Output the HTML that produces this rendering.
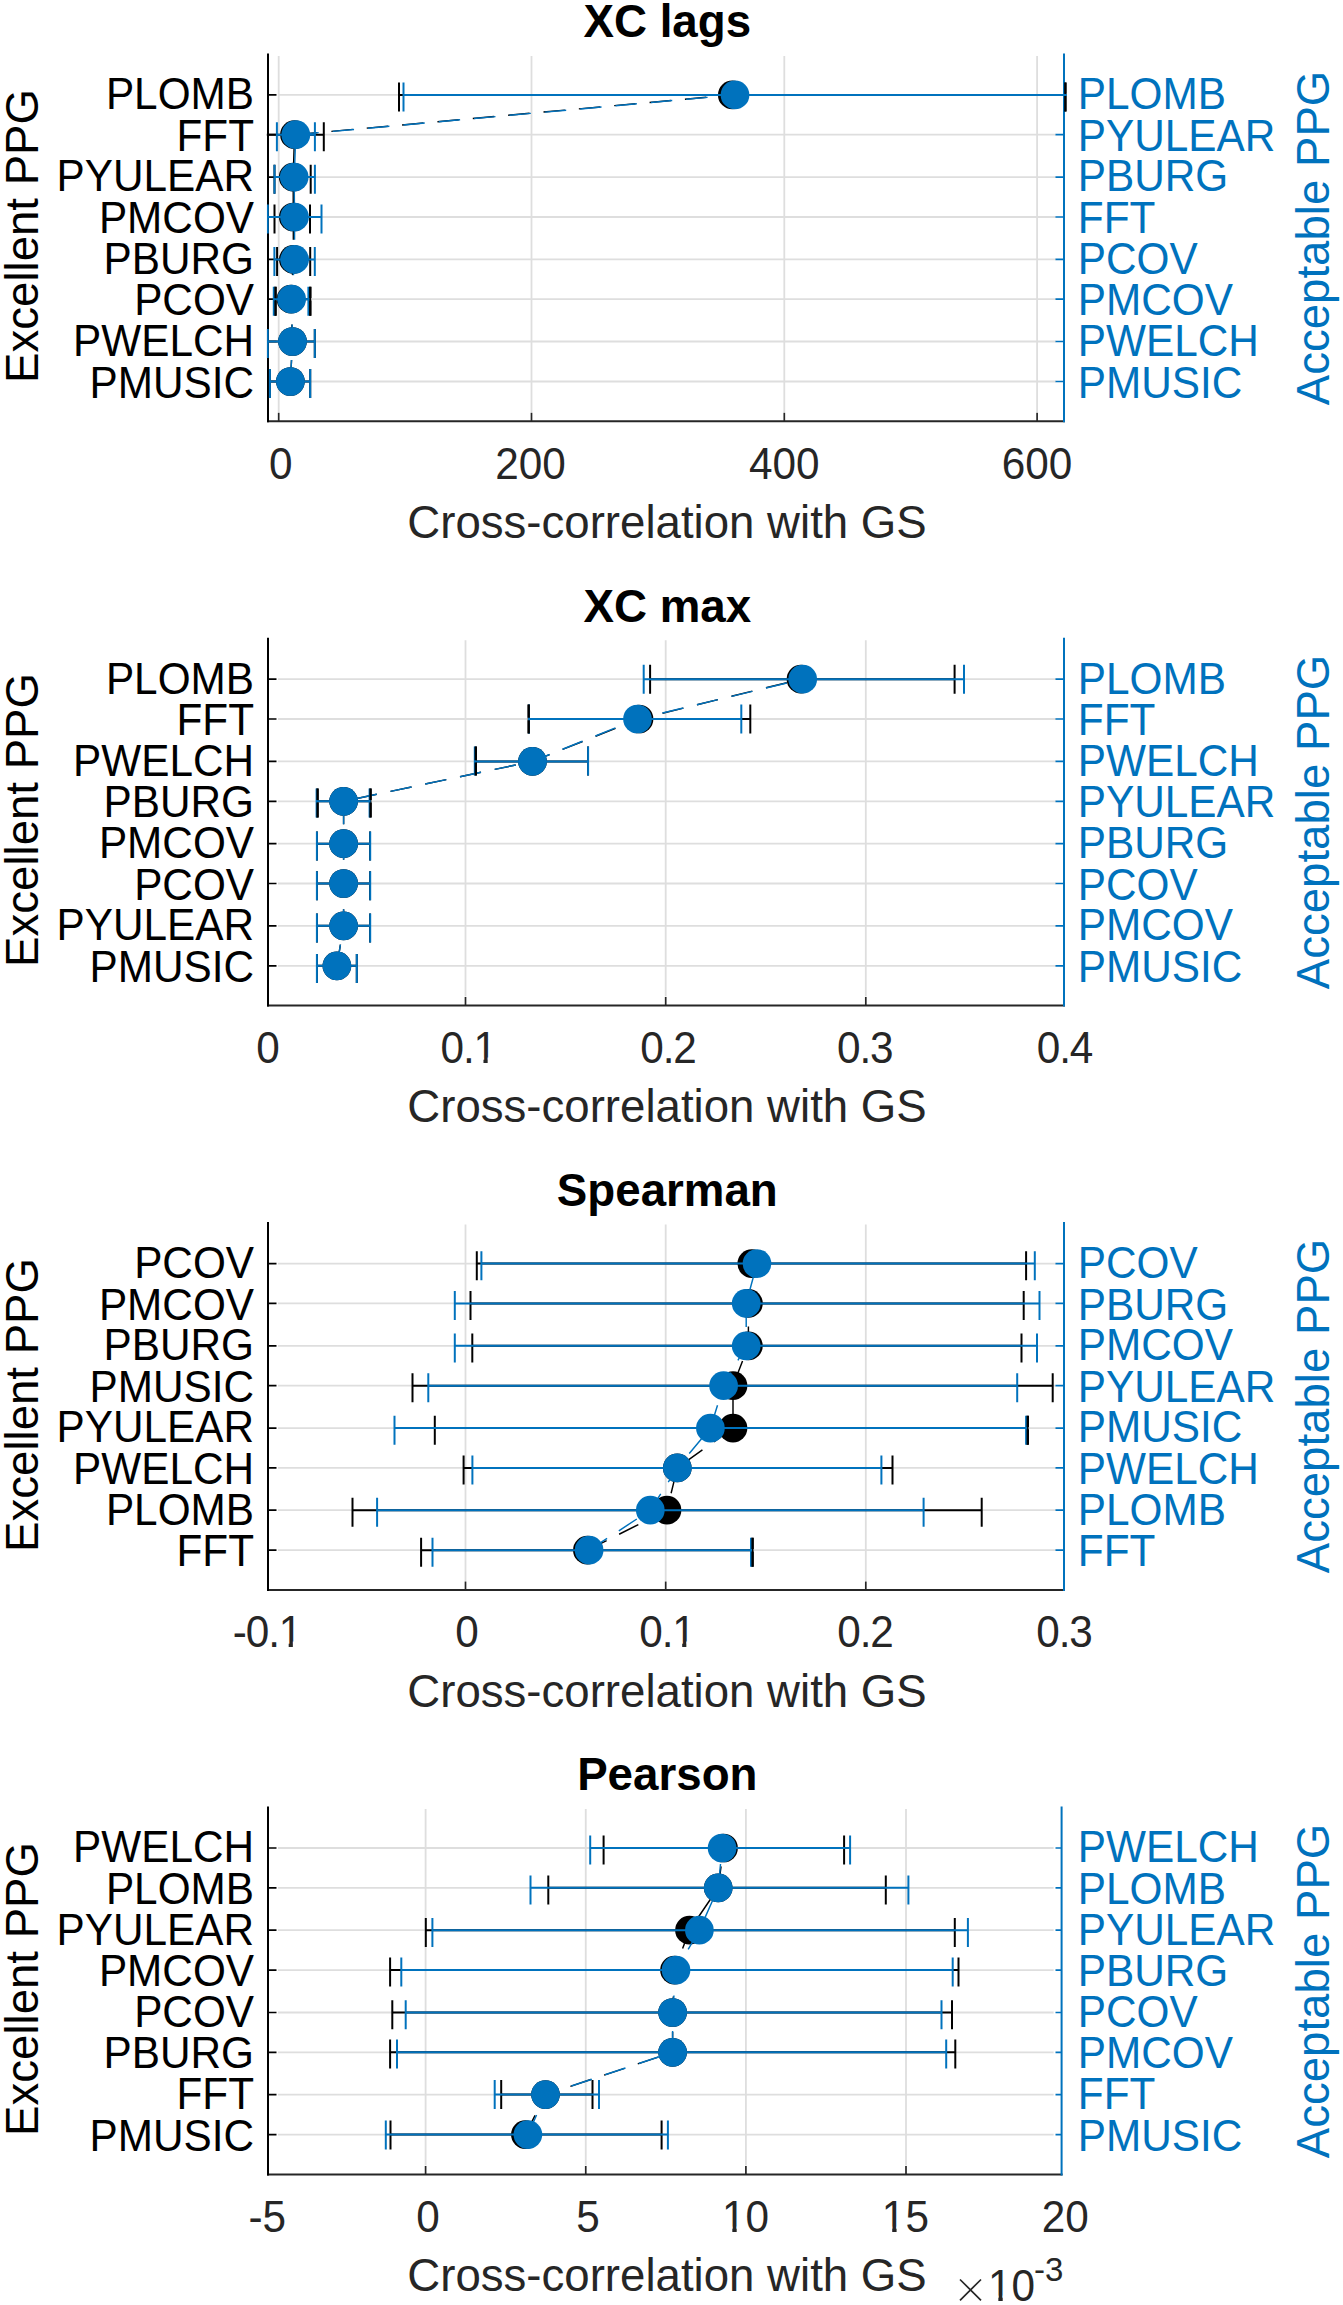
<!DOCTYPE html>
<html><head><meta charset="utf-8"><title>chart</title>
<style>
html,body{margin:0;padding:0;background:#fff}
body{width:1343px;height:2305px;position:relative;overflow:hidden;font-family:"Liberation Sans",sans-serif}
.o{display:inline-block;clip-path:polygon(0 0,100% 0,100% 70%,62.5% 70%,62.5% 100%,44% 100%,44% 70%,0 70%)}
</style></head><body>
<svg width="1343" height="2305" viewBox="0 0 1343 2305" style="position:absolute;left:0;top:0">
<rect width="1343" height="2305" fill="#fff"/>
<path d="M278.7 55.9V412.3M531.5 55.9V412.3M784.3 55.9V412.3M1037.1 55.9V412.3M278 94.9H1056M278 134.7H1056M278 177.1H1056M278 217.0H1056M278 259.4H1056M278 299.2H1056M278 341.5H1056M278 381.5H1056" stroke="#dedede" stroke-width="1.8" fill="none"/>
<clipPath id="c0"><rect x="266.8" y="53.9" width="800" height="367.4"/></clipPath>
<path d="M267 421.3H1065" stroke="#262626" stroke-width="2" fill="none"/>
<path d="M278.7 421.3v-8.5M531.5 421.3v-8.5M784.3 421.3v-8.5M1037.1 421.3v-8.5" stroke="#262626" stroke-width="1.7" fill="none"/>
<path d="M268 53.4V422.3" stroke="#000" stroke-width="2" fill="none"/>
<path d="M268 94.9h8.5M268 134.7h8.5M268 177.1h8.5M268 217.0h8.5M268 259.4h8.5M268 299.2h8.5M268 341.5h8.5M268 381.5h8.5" stroke="#000" stroke-width="1.7" fill="none"/>
<path d="M1064 53.4V422.3" stroke="#0072BD" stroke-width="2" fill="none"/>
<path d="M1064 94.9H1055.5M1064 134.7H1055.5M1064 177.1H1055.5M1064 217.0H1055.5M1064 259.4H1055.5M1064 299.2H1055.5M1064 341.5H1055.5M1064 381.5H1055.5" stroke="#0072BD" stroke-width="1.7" fill="none"/>
<g clip-path="url(#c0)">
<path d="M399.0 94.9H1065.5M399.0 82.5V111.5M1065.5 82.5V111.5M262 134.7H323.8M262 122.3V151.3M323.8 122.3V151.3M274.5 177.1H310.7M274.5 164.7V193.7M310.7 164.7V193.7M274.5 217.0H310M274.5 204.6V233.6M310 204.6V233.6M277.1 259.4H310.2M277.1 247.0V276.0M310.2 247.0V276.0M275.3 299.2H310.2M275.3 286.8V315.8M310.2 286.8V315.8M267.8 341.5H314.8M267.8 329.1V358.1M314.8 329.1V358.1M269.9 381.5H310.2M269.9 369.1V398.1M310.2 369.1V398.1" stroke="#000" stroke-width="2" fill="none"/>
<polyline points="290.4,381.5 292.5,341.5 291,299.2 293.4,259.4 293.3,217.0 293.2,177.1 294.5,134.7 732.3,94.9" stroke="#000" stroke-width="1.45" fill="none" stroke-dasharray="21.5 14" stroke-dashoffset="0"/>
<circle cx="732.3" cy="94.9" r="14.35" fill="#000"/>
<circle cx="294.5" cy="134.7" r="14.35" fill="#000"/>
<circle cx="293.2" cy="177.1" r="14.35" fill="#000"/>
<circle cx="293.3" cy="217.0" r="14.35" fill="#000"/>
<circle cx="293.4" cy="259.4" r="14.35" fill="#000"/>
<circle cx="291" cy="299.2" r="14.35" fill="#000"/>
<circle cx="292.5" cy="341.5" r="14.35" fill="#000"/>
<circle cx="290.4" cy="381.5" r="14.35" fill="#000"/>
<path d="M403.5 94.9H1100M403.5 82.5V111.5M1100 82.5V111.5M276.9 134.7H314.9M276.9 122.3V151.3M314.9 122.3V151.3M274.5 177.1H314.9M274.5 164.7V193.7M314.9 164.7V193.7M267.8 217.0H321.5M267.8 204.6V233.6M321.5 204.6V233.6M274.4 259.4H314.8M274.4 247.0V276.0M314.8 247.0V276.0M273.8 299.2H308.4M273.8 286.8V315.8M308.4 286.8V315.8M267.8 341.5H314.8M267.8 329.1V358.1M314.8 329.1V358.1M269.9 381.5H310.2M269.9 369.1V398.1M310.2 369.1V398.1" stroke="#0072BD" stroke-width="2" fill="none"/>
<polyline points="290.4,381.5 292.5,341.5 291.6,299.2 294.6,259.4 294.5,217.0 294.2,177.1 295.8,134.7 735,94.9" stroke="#0072BD" stroke-width="1.45" fill="none" stroke-dasharray="21.5 14" stroke-dashoffset="0"/>
<circle cx="735" cy="94.9" r="14.35" fill="#0072BD"/>
<circle cx="295.8" cy="134.7" r="14.35" fill="#0072BD"/>
<circle cx="294.2" cy="177.1" r="14.35" fill="#0072BD"/>
<circle cx="294.5" cy="217.0" r="14.35" fill="#0072BD"/>
<circle cx="294.6" cy="259.4" r="14.35" fill="#0072BD"/>
<circle cx="291.6" cy="299.2" r="14.35" fill="#0072BD"/>
<circle cx="292.5" cy="341.5" r="14.35" fill="#0072BD"/>
<circle cx="290.4" cy="381.5" r="14.35" fill="#0072BD"/>
<path d="M1065.5 82.5V93.7M1065.5 96.1V111.5M275.6 286.8V298.0M275.6 300.4V315.8M310.3 286.8V298.0M310.3 300.4V315.8" stroke="#000" stroke-width="2.4" fill="none"/>
</g>
<path d="M465.5 640.2V996.6M665.7 640.2V996.6M865.8 640.2V996.6M278 679.2H1056M278 719.0H1056M278 761.4H1056M278 801.3H1056M278 843.7H1056M278 883.5H1056M278 925.8H1056M278 965.8H1056" stroke="#dedede" stroke-width="1.8" fill="none"/>
<clipPath id="c1"><rect x="266.8" y="638.2" width="800" height="367.4"/></clipPath>
<path d="M267 1005.6H1065" stroke="#262626" stroke-width="2" fill="none"/>
<path d="M465.5 1005.6v-8.5M665.7 1005.6v-8.5M865.8 1005.6v-8.5" stroke="#262626" stroke-width="1.7" fill="none"/>
<path d="M268 637.7V1006.6" stroke="#000" stroke-width="2" fill="none"/>
<path d="M268 679.2h8.5M268 719.0h8.5M268 761.4h8.5M268 801.3h8.5M268 843.7h8.5M268 883.5h8.5M268 925.8h8.5M268 965.8h8.5" stroke="#000" stroke-width="1.7" fill="none"/>
<path d="M1064 637.7V1006.6" stroke="#0072BD" stroke-width="2" fill="none"/>
<path d="M1064 679.2H1055.5M1064 719.0H1055.5M1064 761.4H1055.5M1064 801.3H1055.5M1064 843.7H1055.5M1064 883.5H1055.5M1064 925.8H1055.5M1064 965.8H1055.5" stroke="#0072BD" stroke-width="1.7" fill="none"/>
<g clip-path="url(#c1)">
<path d="M650.1 679.2H954.6M650.1 664.7V693.7M954.6 664.7V693.7M528.7 719.0H750.3M528.7 704.5V733.5M750.3 704.5V733.5M475.8 761.4H588M475.8 746.6V775.6M588 746.6V775.6M317.4 801.3H370.4M317.4 788.4V817.4M370.4 788.4V817.4M317 843.7H370M317 831.4V860.4M370 831.4V860.4M317 883.5H370M317 871.2V900.2M370 871.2V900.2M317 925.8H370M317 913.5V942.5M370 913.5V942.5M317 965.8H356.8M317 953.9V982.9M356.8 953.9V982.9" stroke="#000" stroke-width="2" fill="none"/>
<polyline points="336.9,965.8 343.6,925.8 343.6,883.5 343.6,843.7 343.6,801.3 532.5,761.4 639,719.0 801,679.2" stroke="#000" stroke-width="1.45" fill="none" stroke-dasharray="21.5 14" stroke-dashoffset="0"/>
<circle cx="801" cy="679.2" r="14.35" fill="#000"/>
<circle cx="639" cy="719.0" r="14.35" fill="#000"/>
<circle cx="532.5" cy="761.4" r="14.35" fill="#000"/>
<circle cx="343.6" cy="801.3" r="14.35" fill="#000"/>
<circle cx="343.6" cy="843.7" r="14.35" fill="#000"/>
<circle cx="343.6" cy="883.5" r="14.35" fill="#000"/>
<circle cx="343.6" cy="925.8" r="14.35" fill="#000"/>
<circle cx="336.9" cy="965.8" r="14.35" fill="#000"/>
<path d="M643.7 679.2H964.0M643.7 664.7V693.7M964.0 664.7V693.7M529 719.0H741.3M529 704.5V733.5M741.3 704.5V733.5M474.8 761.4H588.1M474.8 746.6V775.6M588.1 746.6V775.6M316.6 801.3H369.6M316.6 788.4V817.4M369.6 788.4V817.4M316.9 843.7H370.2M316.9 831.4V860.4M370.2 831.4V860.4M316.9 883.5H370.2M316.9 871.2V900.2M370.2 871.2V900.2M316.9 925.8H370.2M316.9 913.5V942.5M370.2 913.5V942.5M316.9 965.8H356.8M316.9 953.9V982.9M356.8 953.9V982.9" stroke="#0072BD" stroke-width="2" fill="none"/>
<polyline points="336.9,965.8 343.6,925.8 343.6,883.5 343.6,843.7 343.6,801.3 532.5,761.4 637.5,719.0 802.7,679.2" stroke="#0072BD" stroke-width="1.45" fill="none" stroke-dasharray="21.5 14" stroke-dashoffset="0"/>
<circle cx="802.7" cy="679.2" r="14.35" fill="#0072BD"/>
<circle cx="637.5" cy="719.0" r="14.35" fill="#0072BD"/>
<circle cx="532.5" cy="761.4" r="14.35" fill="#0072BD"/>
<circle cx="343.6" cy="801.3" r="14.35" fill="#0072BD"/>
<circle cx="343.6" cy="843.7" r="14.35" fill="#0072BD"/>
<circle cx="343.6" cy="883.5" r="14.35" fill="#0072BD"/>
<circle cx="343.6" cy="925.8" r="14.35" fill="#0072BD"/>
<circle cx="336.9" cy="965.8" r="14.35" fill="#0072BD"/>
<path d="M528.7 704.5V717.8M528.7 720.2V733.5M475.8 746.6V760.2M475.8 762.6V775.6M317.6 788.4V800.1M317.6 802.5V817.4M370.6 788.4V800.1M370.6 802.5V817.4" stroke="#000" stroke-width="2.4" fill="none"/>
</g>
<path d="M465.5 1224.6V1581.0M665.7 1224.6V1581.0M865.8 1224.6V1581.0M278 1263.6H1056M278 1303.4H1056M278 1345.8H1056M278 1385.7H1056M278 1428.1H1056M278 1467.9H1056M278 1510.2H1056M278 1550.2H1056" stroke="#dedede" stroke-width="1.8" fill="none"/>
<clipPath id="c2"><rect x="266.8" y="1222.6" width="800" height="367.4"/></clipPath>
<path d="M267 1590.0H1065" stroke="#262626" stroke-width="2" fill="none"/>
<path d="M465.5 1590.0v-8.5M665.7 1590.0v-8.5M865.8 1590.0v-8.5" stroke="#262626" stroke-width="1.7" fill="none"/>
<path d="M268 1222.1V1591.0" stroke="#000" stroke-width="2" fill="none"/>
<path d="M268 1263.6h8.5M268 1303.4h8.5M268 1345.8h8.5M268 1385.7h8.5M268 1428.1h8.5M268 1467.9h8.5M268 1510.2h8.5M268 1550.2h8.5" stroke="#000" stroke-width="1.7" fill="none"/>
<path d="M1064 1222.1V1591.0" stroke="#0072BD" stroke-width="2" fill="none"/>
<path d="M1064 1263.6H1055.5M1064 1303.4H1055.5M1064 1345.8H1055.5M1064 1385.7H1055.5M1064 1428.1H1055.5M1064 1467.9H1055.5M1064 1510.2H1055.5M1064 1550.2H1055.5" stroke="#0072BD" stroke-width="1.7" fill="none"/>
<g clip-path="url(#c2)">
<path d="M476.8 1263.6H1026.1M476.8 1251.2V1280.2M1026.1 1251.2V1280.2M470.5 1303.4H1023.7M470.5 1291.0V1320.0M1023.7 1291.0V1320.0M472.3 1345.8H1021.5M472.3 1333.4V1362.4M1021.5 1333.4V1362.4M412.5 1385.7H1052.7M412.5 1373.3V1402.3M1052.7 1373.3V1402.3M434.8 1428.1H1027.6M434.8 1415.7V1444.7M1027.6 1415.7V1444.7M463.6 1467.9H892.5M463.6 1455.5V1484.5M892.5 1455.5V1484.5M352.5 1510.2H981.7M352.5 1497.8V1526.8M981.7 1497.8V1526.8M421.1 1550.2H752.5M421.1 1537.8V1566.8M752.5 1537.8V1566.8" stroke="#000" stroke-width="2" fill="none"/>
<polyline points="587.4,1550.2 667,1510.2 677.3,1467.9 733,1428.1 733,1385.7 748.4,1345.8 748.4,1303.4 751.8,1263.6" stroke="#000" stroke-width="1.45" fill="none" stroke-dasharray="21.5 14" stroke-dashoffset="0"/>
<circle cx="751.8" cy="1263.6" r="14.35" fill="#000"/>
<circle cx="748.4" cy="1303.4" r="14.35" fill="#000"/>
<circle cx="748.4" cy="1345.8" r="14.35" fill="#000"/>
<circle cx="733" cy="1385.7" r="14.35" fill="#000"/>
<circle cx="733" cy="1428.1" r="14.35" fill="#000"/>
<circle cx="677.3" cy="1467.9" r="14.35" fill="#000"/>
<circle cx="667" cy="1510.2" r="14.35" fill="#000"/>
<circle cx="587.4" cy="1550.2" r="14.35" fill="#000"/>
<path d="M481.4 1263.6H1034.8M481.4 1251.2V1280.2M1034.8 1251.2V1280.2M454.8 1303.4H1039.5M454.8 1291.0V1320.0M1039.5 1291.0V1320.0M454.8 1345.8H1037M454.8 1333.4V1362.4M1037 1333.4V1362.4M428.3 1385.7H1017.2M428.3 1373.3V1402.3M1017.2 1373.3V1402.3M394.5 1428.1H1026.1M394.5 1415.7V1444.7M1026.1 1415.7V1444.7M472.4 1467.9H881.4M472.4 1455.5V1484.5M881.4 1455.5V1484.5M377.1 1510.2H923.6M377.1 1497.8V1526.8M923.6 1497.8V1526.8M432.5 1550.2H751M432.5 1537.8V1566.8M751 1537.8V1566.8" stroke="#0072BD" stroke-width="2" fill="none"/>
<polyline points="589.1,1550.2 650.3,1510.2 677.3,1467.9 710.4,1428.1 723.6,1385.7 746.2,1345.8 746.2,1303.4 757,1263.6" stroke="#0072BD" stroke-width="1.45" fill="none" stroke-dasharray="21.5 14" stroke-dashoffset="0"/>
<circle cx="757" cy="1263.6" r="14.35" fill="#0072BD"/>
<circle cx="746.2" cy="1303.4" r="14.35" fill="#0072BD"/>
<circle cx="746.2" cy="1345.8" r="14.35" fill="#0072BD"/>
<circle cx="723.6" cy="1385.7" r="14.35" fill="#0072BD"/>
<circle cx="710.4" cy="1428.1" r="14.35" fill="#0072BD"/>
<circle cx="677.3" cy="1467.9" r="14.35" fill="#0072BD"/>
<circle cx="650.3" cy="1510.2" r="14.35" fill="#0072BD"/>
<circle cx="589.1" cy="1550.2" r="14.35" fill="#0072BD"/>
<path d="M1027.8 1415.7V1426.9M1027.8 1429.3V1444.7M752.6 1537.8V1549.0M752.6 1551.4V1566.8" stroke="#000" stroke-width="2.4" fill="none"/>
</g>
<path d="M425.6 1809.0V2165.4M585.75 1809.0V2165.4M745.9 1809.0V2165.4M906.0 1809.0V2165.4M278 1848.0H1053.6M278 1887.8H1053.6M278 1930.2H1053.6M278 1970.1H1053.6M278 2012.5H1053.6M278 2052.3H1053.6M278 2094.6H1053.6M278 2134.6H1053.6" stroke="#dedede" stroke-width="1.8" fill="none"/>
<clipPath id="c3"><rect x="266.8" y="1807.0" width="797.5999999999999" height="367.4"/></clipPath>
<path d="M267 2174.4H1062.6" stroke="#262626" stroke-width="2" fill="none"/>
<path d="M425.6 2174.4v-8.5M585.75 2174.4v-8.5M745.9 2174.4v-8.5M906.0 2174.4v-8.5" stroke="#262626" stroke-width="1.7" fill="none"/>
<path d="M268 1806.5V2175.4" stroke="#000" stroke-width="2" fill="none"/>
<path d="M268 1848.0h8.5M268 1887.8h8.5M268 1930.2h8.5M268 1970.1h8.5M268 2012.5h8.5M268 2052.3h8.5M268 2094.6h8.5M268 2134.6h8.5" stroke="#000" stroke-width="1.7" fill="none"/>
<path d="M1061.6 1806.5V2175.4" stroke="#0072BD" stroke-width="2" fill="none"/>
<path d="M1061.6 1848.0H1055.5M1061.6 1887.8H1055.5M1061.6 1930.2H1055.5M1061.6 1970.1H1055.5M1061.6 2012.5H1055.5M1061.6 2052.3H1055.5M1061.6 2094.6H1055.5M1061.6 2134.6H1055.5" stroke="#0072BD" stroke-width="1.7" fill="none"/>
<g clip-path="url(#c3)">
<path d="M603.6 1848.0H844.1M603.6 1835.5V1864.5M844.1 1835.5V1864.5M548.3 1887.8H885.8M548.3 1875.5V1904.5M885.8 1875.5V1904.5M425.8 1930.2H954.8M425.8 1917.9V1946.9M954.8 1917.9V1946.9M390.1 1970.1H958.5M390.1 1957.6V1986.6M958.5 1957.6V1986.6M392.3 2012.5H952M392.3 2000.2V2029.2M952 2000.2V2029.2M390.1 2052.3H955.3M390.1 2039.4V2068.4M955.3 2039.4V2068.4M501.2 2094.6H592.5M501.2 2080.1V2109.1M592.5 2080.1V2109.1M390.5 2134.6H661.6M390.5 2120.4V2149.4M661.6 2120.4V2149.4" stroke="#000" stroke-width="2" fill="none"/>
<polyline points="525.4,2134.6 545.5,2094.6 672.6,2052.3 672.6,2012.5 674.5,1970.1 689.5,1930.2 718.2,1887.8 723.5,1848.0" stroke="#000" stroke-width="1.45" fill="none" stroke-dasharray="21.5 14" stroke-dashoffset="0"/>
<circle cx="723.5" cy="1848.0" r="14.35" fill="#000"/>
<circle cx="718.2" cy="1887.8" r="14.35" fill="#000"/>
<circle cx="689.5" cy="1930.2" r="14.35" fill="#000"/>
<circle cx="674.5" cy="1970.1" r="14.35" fill="#000"/>
<circle cx="672.6" cy="2012.5" r="14.35" fill="#000"/>
<circle cx="672.6" cy="2052.3" r="14.35" fill="#000"/>
<circle cx="545.5" cy="2094.6" r="14.35" fill="#000"/>
<circle cx="525.4" cy="2134.6" r="14.35" fill="#000"/>
<path d="M590.2 1848.0H850.1M590.2 1835.5V1864.5M850.1 1835.5V1864.5M530.5 1887.8H908.4M530.5 1875.5V1904.5M908.4 1875.5V1904.5M432.4 1930.2H967.9M432.4 1917.9V1946.9M967.9 1917.9V1946.9M401.3 1970.1H952.7M401.3 1957.6V1986.6M952.7 1957.6V1986.6M405.7 2012.5H941.5M405.7 2000.2V2029.2M941.5 2000.2V2029.2M397 2052.3H946.2M397 2039.4V2068.4M946.2 2039.4V2068.4M494.7 2094.6H599M494.7 2080.1V2109.1M599 2080.1V2109.1M385.8 2134.6H667.9M385.8 2120.4V2149.4M667.9 2120.4V2149.4" stroke="#0072BD" stroke-width="2" fill="none"/>
<polyline points="527.9,2134.6 545.5,2094.6 672.6,2052.3 672.6,2012.5 676,1970.1 699.4,1930.2 718.2,1887.8 722.1,1848.0" stroke="#0072BD" stroke-width="1.45" fill="none" stroke-dasharray="21.5 14" stroke-dashoffset="0"/>
<circle cx="722.1" cy="1848.0" r="14.35" fill="#0072BD"/>
<circle cx="718.2" cy="1887.8" r="14.35" fill="#0072BD"/>
<circle cx="699.4" cy="1930.2" r="14.35" fill="#0072BD"/>
<circle cx="676" cy="1970.1" r="14.35" fill="#0072BD"/>
<circle cx="672.6" cy="2012.5" r="14.35" fill="#0072BD"/>
<circle cx="672.6" cy="2052.3" r="14.35" fill="#0072BD"/>
<circle cx="545.5" cy="2094.6" r="14.35" fill="#0072BD"/>
<circle cx="527.9" cy="2134.6" r="14.35" fill="#0072BD"/>
</g>
<path d="M960 2279.5L981 2300.3M981 2279.5L960 2300.3" stroke="#262626" stroke-width="1.7" fill="none"/>
</svg>
<div style="position:absolute;white-space:nowrap;font-size:45.7px;line-height:45.7px;color:#000;font-weight:bold;left:667.3px;top:-0.69px;transform-origin:0 84.3%;transform:translateX(-50%) scaleY(1.03);">XC lags</div>
<div style="position:absolute;white-space:nowrap;font-size:42.3px;line-height:42.3px;color:#000;font-weight:normal;right:1089px;top:74.29px;transform-origin:0 84.3%;transform:scaleY(1.03);">PLOMB</div>
<div style="position:absolute;white-space:nowrap;font-size:42.3px;line-height:42.3px;color:#000;font-weight:normal;right:1089px;top:115.89px;transform-origin:0 84.3%;transform:scaleY(1.03);">FFT</div>
<div style="position:absolute;white-space:nowrap;font-size:42.3px;line-height:42.3px;color:#000;font-weight:normal;right:1089px;top:156.49px;transform-origin:0 84.3%;transform:scaleY(1.03);">PYULEAR</div>
<div style="position:absolute;white-space:nowrap;font-size:42.3px;line-height:42.3px;color:#000;font-weight:normal;right:1089px;top:198.19px;transform-origin:0 84.3%;transform:scaleY(1.03);">PMCOV</div>
<div style="position:absolute;white-space:nowrap;font-size:42.3px;line-height:42.3px;color:#000;font-weight:normal;right:1089px;top:238.79px;transform-origin:0 84.3%;transform:scaleY(1.03);">PBURG</div>
<div style="position:absolute;white-space:nowrap;font-size:42.3px;line-height:42.3px;color:#000;font-weight:normal;right:1089px;top:280.39px;transform-origin:0 84.3%;transform:scaleY(1.03);">PCOV</div>
<div style="position:absolute;white-space:nowrap;font-size:42.3px;line-height:42.3px;color:#000;font-weight:normal;right:1089px;top:320.89px;transform-origin:0 84.3%;transform:scaleY(1.03);">PWELCH</div>
<div style="position:absolute;white-space:nowrap;font-size:42.3px;line-height:42.3px;color:#000;font-weight:normal;right:1089px;top:362.69px;transform-origin:0 84.3%;transform:scaleY(1.03);">PMUSIC</div>
<div style="position:absolute;white-space:nowrap;font-size:42.3px;line-height:42.3px;color:#0072BD;font-weight:normal;left:1077.8px;top:74.29px;transform-origin:0 84.3%;transform:scaleY(1.03);">PLOMB</div>
<div style="position:absolute;white-space:nowrap;font-size:42.3px;line-height:42.3px;color:#0072BD;font-weight:normal;left:1077.8px;top:115.89px;transform-origin:0 84.3%;transform:scaleY(1.03);">PYULEAR</div>
<div style="position:absolute;white-space:nowrap;font-size:42.3px;line-height:42.3px;color:#0072BD;font-weight:normal;left:1077.8px;top:156.49px;transform-origin:0 84.3%;transform:scaleY(1.03);">PBURG</div>
<div style="position:absolute;white-space:nowrap;font-size:42.3px;line-height:42.3px;color:#0072BD;font-weight:normal;left:1077.8px;top:198.19px;transform-origin:0 84.3%;transform:scaleY(1.03);">FFT</div>
<div style="position:absolute;white-space:nowrap;font-size:42.3px;line-height:42.3px;color:#0072BD;font-weight:normal;left:1077.8px;top:238.79px;transform-origin:0 84.3%;transform:scaleY(1.03);">PCOV</div>
<div style="position:absolute;white-space:nowrap;font-size:42.3px;line-height:42.3px;color:#0072BD;font-weight:normal;left:1077.8px;top:280.39px;transform-origin:0 84.3%;transform:scaleY(1.03);">PMCOV</div>
<div style="position:absolute;white-space:nowrap;font-size:42.3px;line-height:42.3px;color:#0072BD;font-weight:normal;left:1077.8px;top:320.89px;transform-origin:0 84.3%;transform:scaleY(1.03);">PWELCH</div>
<div style="position:absolute;white-space:nowrap;font-size:42.3px;line-height:42.3px;color:#0072BD;font-weight:normal;left:1077.8px;top:362.69px;transform-origin:0 84.3%;transform:scaleY(1.03);">PMUSIC</div>
<div style="position:absolute;white-space:nowrap;font-size:42.3px;line-height:42.3px;color:#262626;font-weight:normal;left:280.8px;top:443.69px;transform-origin:0 84.3%;transform:translateX(-50%) scaleY(1.03);">0</div>
<div style="position:absolute;white-space:nowrap;font-size:42.3px;line-height:42.3px;color:#262626;font-weight:normal;left:530.5px;top:443.69px;transform-origin:0 84.3%;transform:translateX(-50%) scaleY(1.03);">200</div>
<div style="position:absolute;white-space:nowrap;font-size:42.3px;line-height:42.3px;color:#262626;font-weight:normal;left:784.3px;top:443.69px;transform-origin:0 84.3%;transform:translateX(-50%) scaleY(1.03);">400</div>
<div style="position:absolute;white-space:nowrap;font-size:42.3px;line-height:42.3px;color:#262626;font-weight:normal;left:1037.1px;top:443.69px;transform-origin:0 84.3%;transform:translateX(-50%) scaleY(1.03);">600</div>
<div style="position:absolute;white-space:nowrap;font-size:45.6px;line-height:45.6px;color:#262626;font-weight:normal;left:667.0px;top:500.1px;transform-origin:0 84.3%;transform:translateX(-50%) scaleY(1.03);">Cross-correlation with GS</div>
<div style="position:absolute;white-space:nowrap;font-size:45.6px;line-height:45.6px;color:#000;font-weight:normal;left:21.8px;top:236.1px;transform:translate(-50%,-50%) rotate(-90deg) scaleY(1.03);">Excellent PPG</div>
<div style="position:absolute;white-space:nowrap;font-size:45.6px;line-height:45.6px;color:#0072BD;font-weight:normal;left:1313.3px;top:237.6px;transform:translate(-50%,-50%) rotate(-90deg) scaleY(1.03);">Acceptable PPG</div>
<div style="position:absolute;white-space:nowrap;font-size:45.7px;line-height:45.7px;color:#000;font-weight:bold;left:667.3px;top:583.66px;transform-origin:0 84.3%;transform:translateX(-50%) scaleY(1.03);">XC max</div>
<div style="position:absolute;white-space:nowrap;font-size:42.3px;line-height:42.3px;color:#000;font-weight:normal;right:1089px;top:658.59px;transform-origin:0 84.3%;transform:scaleY(1.03);">PLOMB</div>
<div style="position:absolute;white-space:nowrap;font-size:42.3px;line-height:42.3px;color:#000;font-weight:normal;right:1089px;top:700.19px;transform-origin:0 84.3%;transform:scaleY(1.03);">FFT</div>
<div style="position:absolute;white-space:nowrap;font-size:42.3px;line-height:42.3px;color:#000;font-weight:normal;right:1089px;top:740.79px;transform-origin:0 84.3%;transform:scaleY(1.03);">PWELCH</div>
<div style="position:absolute;white-space:nowrap;font-size:42.3px;line-height:42.3px;color:#000;font-weight:normal;right:1089px;top:782.49px;transform-origin:0 84.3%;transform:scaleY(1.03);">PBURG</div>
<div style="position:absolute;white-space:nowrap;font-size:42.3px;line-height:42.3px;color:#000;font-weight:normal;right:1089px;top:823.09px;transform-origin:0 84.3%;transform:scaleY(1.03);">PMCOV</div>
<div style="position:absolute;white-space:nowrap;font-size:42.3px;line-height:42.3px;color:#000;font-weight:normal;right:1089px;top:864.69px;transform-origin:0 84.3%;transform:scaleY(1.03);">PCOV</div>
<div style="position:absolute;white-space:nowrap;font-size:42.3px;line-height:42.3px;color:#000;font-weight:normal;right:1089px;top:905.19px;transform-origin:0 84.3%;transform:scaleY(1.03);">PYULEAR</div>
<div style="position:absolute;white-space:nowrap;font-size:42.3px;line-height:42.3px;color:#000;font-weight:normal;right:1089px;top:946.99px;transform-origin:0 84.3%;transform:scaleY(1.03);">PMUSIC</div>
<div style="position:absolute;white-space:nowrap;font-size:42.3px;line-height:42.3px;color:#0072BD;font-weight:normal;left:1077.8px;top:658.59px;transform-origin:0 84.3%;transform:scaleY(1.03);">PLOMB</div>
<div style="position:absolute;white-space:nowrap;font-size:42.3px;line-height:42.3px;color:#0072BD;font-weight:normal;left:1077.8px;top:700.19px;transform-origin:0 84.3%;transform:scaleY(1.03);">FFT</div>
<div style="position:absolute;white-space:nowrap;font-size:42.3px;line-height:42.3px;color:#0072BD;font-weight:normal;left:1077.8px;top:740.79px;transform-origin:0 84.3%;transform:scaleY(1.03);">PWELCH</div>
<div style="position:absolute;white-space:nowrap;font-size:42.3px;line-height:42.3px;color:#0072BD;font-weight:normal;left:1077.8px;top:782.49px;transform-origin:0 84.3%;transform:scaleY(1.03);">PYULEAR</div>
<div style="position:absolute;white-space:nowrap;font-size:42.3px;line-height:42.3px;color:#0072BD;font-weight:normal;left:1077.8px;top:823.09px;transform-origin:0 84.3%;transform:scaleY(1.03);">PBURG</div>
<div style="position:absolute;white-space:nowrap;font-size:42.3px;line-height:42.3px;color:#0072BD;font-weight:normal;left:1077.8px;top:864.69px;transform-origin:0 84.3%;transform:scaleY(1.03);">PCOV</div>
<div style="position:absolute;white-space:nowrap;font-size:42.3px;line-height:42.3px;color:#0072BD;font-weight:normal;left:1077.8px;top:905.19px;transform-origin:0 84.3%;transform:scaleY(1.03);">PMCOV</div>
<div style="position:absolute;white-space:nowrap;font-size:42.3px;line-height:42.3px;color:#0072BD;font-weight:normal;left:1077.8px;top:946.99px;transform-origin:0 84.3%;transform:scaleY(1.03);">PMUSIC</div>
<div style="position:absolute;white-space:nowrap;font-size:42.3px;line-height:42.3px;color:#262626;font-weight:normal;left:268px;top:1028.04px;transform-origin:0 84.3%;transform:translateX(-50%) scaleY(1.03);">0</div>
<div style="letter-spacing:-1.1px;position:absolute;white-space:nowrap;font-size:42.3px;line-height:42.3px;color:#262626;font-weight:normal;left:468.3px;top:1028.04px;transform-origin:0 84.3%;transform:translateX(-50%) scaleY(1.03);">0.<span class="o">1</span></div>
<div style="letter-spacing:-1.1px;position:absolute;white-space:nowrap;font-size:42.3px;line-height:42.3px;color:#262626;font-weight:normal;left:668px;top:1028.04px;transform-origin:0 84.3%;transform:translateX(-50%) scaleY(1.03);">0.2</div>
<div style="letter-spacing:-1.1px;position:absolute;white-space:nowrap;font-size:42.3px;line-height:42.3px;color:#262626;font-weight:normal;left:864.8px;top:1028.04px;transform-origin:0 84.3%;transform:translateX(-50%) scaleY(1.03);">0.3</div>
<div style="letter-spacing:-1.1px;position:absolute;white-space:nowrap;font-size:42.3px;line-height:42.3px;color:#262626;font-weight:normal;left:1064.5px;top:1028.04px;transform-origin:0 84.3%;transform:translateX(-50%) scaleY(1.03);">0.4</div>
<div style="position:absolute;white-space:nowrap;font-size:45.6px;line-height:45.6px;color:#262626;font-weight:normal;left:667.0px;top:1084.45px;transform-origin:0 84.3%;transform:translateX(-50%) scaleY(1.03);">Cross-correlation with GS</div>
<div style="position:absolute;white-space:nowrap;font-size:45.6px;line-height:45.6px;color:#000;font-weight:normal;left:21.8px;top:820.4000000000001px;transform:translate(-50%,-50%) rotate(-90deg) scaleY(1.03);">Excellent PPG</div>
<div style="position:absolute;white-space:nowrap;font-size:45.6px;line-height:45.6px;color:#0072BD;font-weight:normal;left:1313.3px;top:821.9000000000001px;transform:translate(-50%,-50%) rotate(-90deg) scaleY(1.03);">Acceptable PPG</div>
<div style="position:absolute;white-space:nowrap;font-size:45.7px;line-height:45.7px;color:#000;font-weight:bold;left:667.3px;top:1168.01px;transform-origin:0 84.3%;transform:translateX(-50%) scaleY(1.03);">Spearman</div>
<div style="position:absolute;white-space:nowrap;font-size:42.3px;line-height:42.3px;color:#000;font-weight:normal;right:1089px;top:1242.99px;transform-origin:0 84.3%;transform:scaleY(1.03);">PCOV</div>
<div style="position:absolute;white-space:nowrap;font-size:42.3px;line-height:42.3px;color:#000;font-weight:normal;right:1089px;top:1284.59px;transform-origin:0 84.3%;transform:scaleY(1.03);">PMCOV</div>
<div style="position:absolute;white-space:nowrap;font-size:42.3px;line-height:42.3px;color:#000;font-weight:normal;right:1089px;top:1325.19px;transform-origin:0 84.3%;transform:scaleY(1.03);">PBURG</div>
<div style="position:absolute;white-space:nowrap;font-size:42.3px;line-height:42.3px;color:#000;font-weight:normal;right:1089px;top:1366.89px;transform-origin:0 84.3%;transform:scaleY(1.03);">PMUSIC</div>
<div style="position:absolute;white-space:nowrap;font-size:42.3px;line-height:42.3px;color:#000;font-weight:normal;right:1089px;top:1407.49px;transform-origin:0 84.3%;transform:scaleY(1.03);">PYULEAR</div>
<div style="position:absolute;white-space:nowrap;font-size:42.3px;line-height:42.3px;color:#000;font-weight:normal;right:1089px;top:1449.09px;transform-origin:0 84.3%;transform:scaleY(1.03);">PWELCH</div>
<div style="position:absolute;white-space:nowrap;font-size:42.3px;line-height:42.3px;color:#000;font-weight:normal;right:1089px;top:1489.59px;transform-origin:0 84.3%;transform:scaleY(1.03);">PLOMB</div>
<div style="position:absolute;white-space:nowrap;font-size:42.3px;line-height:42.3px;color:#000;font-weight:normal;right:1089px;top:1531.39px;transform-origin:0 84.3%;transform:scaleY(1.03);">FFT</div>
<div style="position:absolute;white-space:nowrap;font-size:42.3px;line-height:42.3px;color:#0072BD;font-weight:normal;left:1077.8px;top:1242.99px;transform-origin:0 84.3%;transform:scaleY(1.03);">PCOV</div>
<div style="position:absolute;white-space:nowrap;font-size:42.3px;line-height:42.3px;color:#0072BD;font-weight:normal;left:1077.8px;top:1284.59px;transform-origin:0 84.3%;transform:scaleY(1.03);">PBURG</div>
<div style="position:absolute;white-space:nowrap;font-size:42.3px;line-height:42.3px;color:#0072BD;font-weight:normal;left:1077.8px;top:1325.19px;transform-origin:0 84.3%;transform:scaleY(1.03);">PMCOV</div>
<div style="position:absolute;white-space:nowrap;font-size:42.3px;line-height:42.3px;color:#0072BD;font-weight:normal;left:1077.8px;top:1366.89px;transform-origin:0 84.3%;transform:scaleY(1.03);">PYULEAR</div>
<div style="position:absolute;white-space:nowrap;font-size:42.3px;line-height:42.3px;color:#0072BD;font-weight:normal;left:1077.8px;top:1407.49px;transform-origin:0 84.3%;transform:scaleY(1.03);">PMUSIC</div>
<div style="position:absolute;white-space:nowrap;font-size:42.3px;line-height:42.3px;color:#0072BD;font-weight:normal;left:1077.8px;top:1449.09px;transform-origin:0 84.3%;transform:scaleY(1.03);">PWELCH</div>
<div style="position:absolute;white-space:nowrap;font-size:42.3px;line-height:42.3px;color:#0072BD;font-weight:normal;left:1077.8px;top:1489.59px;transform-origin:0 84.3%;transform:scaleY(1.03);">PLOMB</div>
<div style="position:absolute;white-space:nowrap;font-size:42.3px;line-height:42.3px;color:#0072BD;font-weight:normal;left:1077.8px;top:1531.39px;transform-origin:0 84.3%;transform:scaleY(1.03);">FFT</div>
<div style="letter-spacing:-1.1px;position:absolute;white-space:nowrap;font-size:42.3px;line-height:42.3px;color:#262626;font-weight:normal;left:267px;top:1612.39px;transform-origin:0 84.3%;transform:translateX(-50%) scaleY(1.03);">-0.<span class="o">1</span></div>
<div style="position:absolute;white-space:nowrap;font-size:42.3px;line-height:42.3px;color:#262626;font-weight:normal;left:467px;top:1612.39px;transform-origin:0 84.3%;transform:translateX(-50%) scaleY(1.03);">0</div>
<div style="letter-spacing:-1.1px;position:absolute;white-space:nowrap;font-size:42.3px;line-height:42.3px;color:#262626;font-weight:normal;left:667px;top:1612.39px;transform-origin:0 84.3%;transform:translateX(-50%) scaleY(1.03);">0.<span class="o">1</span></div>
<div style="letter-spacing:-1.1px;position:absolute;white-space:nowrap;font-size:42.3px;line-height:42.3px;color:#262626;font-weight:normal;left:865px;top:1612.39px;transform-origin:0 84.3%;transform:translateX(-50%) scaleY(1.03);">0.2</div>
<div style="letter-spacing:-1.1px;position:absolute;white-space:nowrap;font-size:42.3px;line-height:42.3px;color:#262626;font-weight:normal;left:1064px;top:1612.39px;transform-origin:0 84.3%;transform:translateX(-50%) scaleY(1.03);">0.3</div>
<div style="position:absolute;white-space:nowrap;font-size:45.6px;line-height:45.6px;color:#262626;font-weight:normal;left:667.0px;top:1668.8px;transform-origin:0 84.3%;transform:translateX(-50%) scaleY(1.03);">Cross-correlation with GS</div>
<div style="position:absolute;white-space:nowrap;font-size:45.6px;line-height:45.6px;color:#000;font-weight:normal;left:21.8px;top:1404.8px;transform:translate(-50%,-50%) rotate(-90deg) scaleY(1.03);">Excellent PPG</div>
<div style="position:absolute;white-space:nowrap;font-size:45.6px;line-height:45.6px;color:#0072BD;font-weight:normal;left:1313.3px;top:1406.3px;transform:translate(-50%,-50%) rotate(-90deg) scaleY(1.03);">Acceptable PPG</div>
<div style="position:absolute;white-space:nowrap;font-size:45.7px;line-height:45.7px;color:#000;font-weight:bold;left:667.3px;top:1752.36px;transform-origin:0 84.3%;transform:translateX(-50%) scaleY(1.03);">Pearson</div>
<div style="position:absolute;white-space:nowrap;font-size:42.3px;line-height:42.3px;color:#000;font-weight:normal;right:1089px;top:1827.39px;transform-origin:0 84.3%;transform:scaleY(1.03);">PWELCH</div>
<div style="position:absolute;white-space:nowrap;font-size:42.3px;line-height:42.3px;color:#000;font-weight:normal;right:1089px;top:1868.99px;transform-origin:0 84.3%;transform:scaleY(1.03);">PLOMB</div>
<div style="position:absolute;white-space:nowrap;font-size:42.3px;line-height:42.3px;color:#000;font-weight:normal;right:1089px;top:1909.59px;transform-origin:0 84.3%;transform:scaleY(1.03);">PYULEAR</div>
<div style="position:absolute;white-space:nowrap;font-size:42.3px;line-height:42.3px;color:#000;font-weight:normal;right:1089px;top:1951.29px;transform-origin:0 84.3%;transform:scaleY(1.03);">PMCOV</div>
<div style="position:absolute;white-space:nowrap;font-size:42.3px;line-height:42.3px;color:#000;font-weight:normal;right:1089px;top:1991.89px;transform-origin:0 84.3%;transform:scaleY(1.03);">PCOV</div>
<div style="position:absolute;white-space:nowrap;font-size:42.3px;line-height:42.3px;color:#000;font-weight:normal;right:1089px;top:2033.49px;transform-origin:0 84.3%;transform:scaleY(1.03);">PBURG</div>
<div style="position:absolute;white-space:nowrap;font-size:42.3px;line-height:42.3px;color:#000;font-weight:normal;right:1089px;top:2073.99px;transform-origin:0 84.3%;transform:scaleY(1.03);">FFT</div>
<div style="position:absolute;white-space:nowrap;font-size:42.3px;line-height:42.3px;color:#000;font-weight:normal;right:1089px;top:2115.79px;transform-origin:0 84.3%;transform:scaleY(1.03);">PMUSIC</div>
<div style="position:absolute;white-space:nowrap;font-size:42.3px;line-height:42.3px;color:#0072BD;font-weight:normal;left:1077.8px;top:1827.39px;transform-origin:0 84.3%;transform:scaleY(1.03);">PWELCH</div>
<div style="position:absolute;white-space:nowrap;font-size:42.3px;line-height:42.3px;color:#0072BD;font-weight:normal;left:1077.8px;top:1868.99px;transform-origin:0 84.3%;transform:scaleY(1.03);">PLOMB</div>
<div style="position:absolute;white-space:nowrap;font-size:42.3px;line-height:42.3px;color:#0072BD;font-weight:normal;left:1077.8px;top:1909.59px;transform-origin:0 84.3%;transform:scaleY(1.03);">PYULEAR</div>
<div style="position:absolute;white-space:nowrap;font-size:42.3px;line-height:42.3px;color:#0072BD;font-weight:normal;left:1077.8px;top:1951.29px;transform-origin:0 84.3%;transform:scaleY(1.03);">PBURG</div>
<div style="position:absolute;white-space:nowrap;font-size:42.3px;line-height:42.3px;color:#0072BD;font-weight:normal;left:1077.8px;top:1991.89px;transform-origin:0 84.3%;transform:scaleY(1.03);">PCOV</div>
<div style="position:absolute;white-space:nowrap;font-size:42.3px;line-height:42.3px;color:#0072BD;font-weight:normal;left:1077.8px;top:2033.49px;transform-origin:0 84.3%;transform:scaleY(1.03);">PMCOV</div>
<div style="position:absolute;white-space:nowrap;font-size:42.3px;line-height:42.3px;color:#0072BD;font-weight:normal;left:1077.8px;top:2073.99px;transform-origin:0 84.3%;transform:scaleY(1.03);">FFT</div>
<div style="position:absolute;white-space:nowrap;font-size:42.3px;line-height:42.3px;color:#0072BD;font-weight:normal;left:1077.8px;top:2115.79px;transform-origin:0 84.3%;transform:scaleY(1.03);">PMUSIC</div>
<div style="position:absolute;white-space:nowrap;font-size:42.3px;line-height:42.3px;color:#262626;font-weight:normal;left:267.3px;top:2196.74px;transform-origin:0 84.3%;transform:translateX(-50%) scaleY(1.03);">-5</div>
<div style="position:absolute;white-space:nowrap;font-size:42.3px;line-height:42.3px;color:#262626;font-weight:normal;left:427.9px;top:2196.74px;transform-origin:0 84.3%;transform:translateX(-50%) scaleY(1.03);">0</div>
<div style="position:absolute;white-space:nowrap;font-size:42.3px;line-height:42.3px;color:#262626;font-weight:normal;left:588px;top:2196.74px;transform-origin:0 84.3%;transform:translateX(-50%) scaleY(1.03);">5</div>
<div style="position:absolute;white-space:nowrap;font-size:42.3px;line-height:42.3px;color:#262626;font-weight:normal;left:745.5px;top:2196.74px;transform-origin:0 84.3%;transform:translateX(-50%) scaleY(1.03);"><span class="o">1</span>0</div>
<div style="position:absolute;white-space:nowrap;font-size:42.3px;line-height:42.3px;color:#262626;font-weight:normal;left:905.4px;top:2196.74px;transform-origin:0 84.3%;transform:translateX(-50%) scaleY(1.03);"><span class="o">1</span>5</div>
<div style="position:absolute;white-space:nowrap;font-size:42.3px;line-height:42.3px;color:#262626;font-weight:normal;left:1065.3px;top:2196.74px;transform-origin:0 84.3%;transform:translateX(-50%) scaleY(1.03);">20</div>
<div style="position:absolute;white-space:nowrap;font-size:45.6px;line-height:45.6px;color:#262626;font-weight:normal;left:667.0px;top:2253.15px;transform-origin:0 84.3%;transform:translateX(-50%) scaleY(1.03);">Cross-correlation with GS</div>
<div style="position:absolute;white-space:nowrap;font-size:45.6px;line-height:45.6px;color:#000;font-weight:normal;left:21.8px;top:1989.2px;transform:translate(-50%,-50%) rotate(-90deg) scaleY(1.03);">Excellent PPG</div>
<div style="position:absolute;white-space:nowrap;font-size:45.6px;line-height:45.6px;color:#0072BD;font-weight:normal;left:1313.3px;top:1990.7px;transform:translate(-50%,-50%) rotate(-90deg) scaleY(1.03);">Acceptable PPG</div>
<div style="position:absolute;white-space:nowrap;font-size:42.3px;line-height:42.3px;color:#262626;font-weight:normal;left:988px;top:2265.59px;transform-origin:0 84.3%;transform:scaleY(1.03);"><span class="o">1</span>0</div>
<div style="position:absolute;white-space:nowrap;font-size:33px;line-height:33px;color:#262626;font-weight:normal;left:1034px;top:2252.57px;transform-origin:0 84.3%;transform:scaleY(1.03);">-3</div>
</body></html>
